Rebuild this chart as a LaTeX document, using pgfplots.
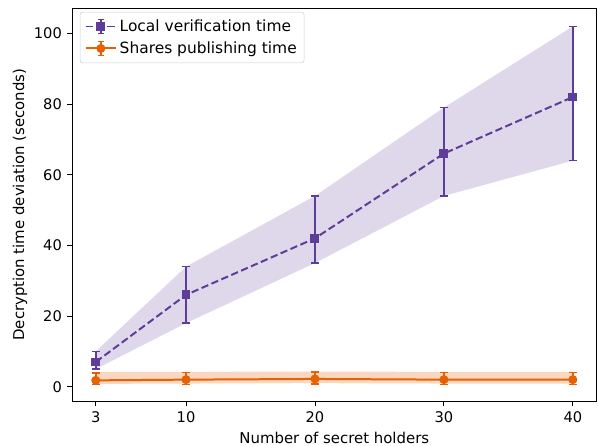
\documentclass[border=0pt]{standalone}
\usepackage{pgfplots}
\pgfplotsset{compat=1.18}
\usepgfplotslibrary{fillbetween}
\usepackage{fontspec}
\setmainfont{DejaVu Sans}
\definecolor{cpurple}{HTML}{5E3C99}
\definecolor{corange}{HTML}{E66101}
\begin{document}
\begin{tikzpicture}
\fontsize{11.2}{13.5}\selectfont
\begin{axis}[
    scale only axis,
    width=394pt, height=295.5pt,
    xmin=1.15, xmax=41.85,
    ymin=-4.2, ymax=107.2,
    xtick={3,10,20,30,40},
    ytick={0,20,40,60,80,100},
    tick align=outside,
    xtick pos=bottom, ytick pos=left,
    major tick length=3.6pt,
    tick style={black, line width=0.6pt},
    axis line style={line width=0.6pt},
    xlabel={Number of secret holders},
    ylabel={Decryption time deviation (seconds)},
    xlabel style={at={(axis description cs:0.5,-0.0914)}, anchor=center},
    ylabel style={at={(axis description cs:-0.099,0.5)}, anchor=center},
    /pgf/number format/assume math mode=true,
    ticklabel style={font=\fontsize{11}{13}\selectfont},
    label style={font=\fontsize{11.2}{13.5}\selectfont},
    legend style={at={(0.015,0.99)}, anchor=north west, draw=black!20,
        rounded corners=2pt, font=\fontsize{11.6}{14}\selectfont,
        row sep=2pt, inner sep=3.5pt},
    legend cell align=left,
    legend image code/.code={
        \draw[#1] (0cm,0cm) -- (0.8cm,0cm);
        \draw[#1,solid,line width=1.1pt] (0.4cm,-0.18cm) -- (0.4cm,0.18cm);
        \draw[#1,solid,line width=1.1pt] (0.33cm,-0.18cm) -- (0.47cm,-0.18cm);
        \draw[#1,solid,line width=1.1pt] (0.33cm,0.18cm) -- (0.47cm,0.18cm);
        \draw[#1,solid] plot coordinates {(0.4cm,0cm)};
    },
]

% bands
\addplot[draw=none, forget plot, name path=pu] coordinates {(3,10) (10,34) (20,54) (30,79) (40,102)};
\addplot[draw=none, forget plot, name path=pl] coordinates {(3,5) (10,18) (20,35) (30,54) (40,64)};
\addplot[cpurple!20, forget plot] fill between[of=pu and pl];
\addplot[draw=none, forget plot, name path=ou] coordinates {(3,4.2) (10,4.2) (20,4.3) (30,4.2) (40,4.2)};
\addplot[draw=none, forget plot, name path=ol] coordinates {(3,0.8) (10,0.9) (20,1.0) (30,0.9) (40,0.9)};
\addplot[corange!25, forget plot] fill between[of=ou and ol];

% Local verification time
\addplot[
    cpurple, line width=1.5pt, dash pattern=on 5.5pt off 2.6pt,
    mark=square*, mark size=2.6pt, mark options={solid},
    error bars/.cd, y dir=both, y explicit,
    error bar style={line width=1.1pt, solid},
    error mark options={rotate=90, mark size=3pt, line width=1.1pt, solid},
] coordinates {
    (3,7)   += (0,3)  -= (0,2)
    (10,26) += (0,8)  -= (0,8)
    (20,42) += (0,12) -= (0,7)
    (30,66) += (0,13) -= (0,12)
    (40,82) += (0,20) -= (0,18)
};
\addlegendentry{Local verification time}

% Shares publishing time
\addplot[
    corange, line width=1.5pt,
    mark=*, mark size=2.6pt,
    error bars/.cd, y dir=both, y explicit,
    error bar style={line width=1.1pt},
    error mark options={rotate=90, mark size=3pt, line width=1.1pt},
] coordinates {
    (3,1.8)  += (0,2.1) -= (0,1.2)
    (10,2.0) += (0,2.0) -= (0,1.3)
    (20,2.2) += (0,1.9) -= (0,1.4)
    (30,2.0) += (0,2.0) -= (0,1.3)
    (40,2.0) += (0,2.0) -= (0,1.3)
};
\addlegendentry{Shares publishing time}

\end{axis}
\pgfresetboundingbox
\path ([shift={(-54pt,-33pt)}]current axis.south west) rectangle ([shift={(1pt,6pt)}]current axis.north east);
\end{tikzpicture}
\end{document}
